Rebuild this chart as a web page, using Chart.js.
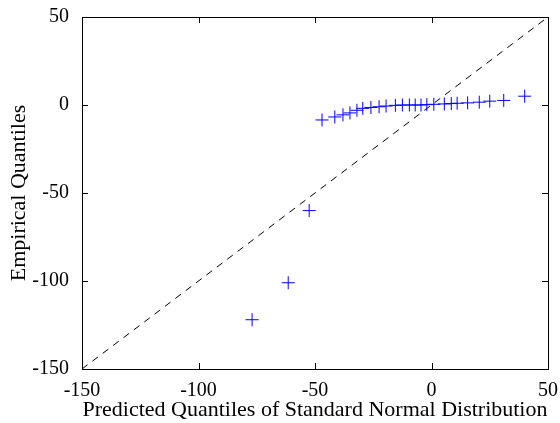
<!DOCTYPE html>
<html>
<head>
<meta charset="utf-8">
<script src="https://cdn.jsdelivr.net/npm/chart.js@4"></script>
<style>
  html, body { margin: 0; padding: 0; background: #fff; }
  #wrap { width: 560px; height: 423px; }
</style>
</head>
<body>
<div id="wrap"><canvas id="qq"></canvas></div>
<script>
// predicted (normal) quantiles and the empirical quantiles
const predicted = [-77, -61.5, -52.5, -47, -41.5, -38, -35, -32, -29.5, -26, -22.5, -19.5,
  -15.5, -12.5, -9.5, -7, -4.5, -2, 1, 5.5, 8.5, 11, 15.5, 20.5, 25, 31, 40];
const empirical = [-122, -101, -60, -8.5, -6.8, -5.6, -4.5, -3, -1.9, -1.4, -1, -0.6,
  -0.2, 0, 0, 0, 0, 0.2, 0.4, 0.6, 0.8, 1, 1.2, 1.6, 2.2, 2.6, 5];
const refLine = [-150, 50];
const xTicks = [-150, -100, -50, 0, 50];
const yTicks = [-150, -100, -50, 0, 50];

let ctx = document.getElementById('qq');

const points = predicted.map((x, i) => ({x: x, y: empirical[i]}));
const line = refLine.map(v => ({x: v, y: v}));

// box round the plot with inward tick marks on all sides
const boxPlugin = {
  id: 'box',
  afterDraw(chart) {
    const c = chart.ctx, a = chart.chartArea;
    const xs = chart.scales.x, ys = chart.scales.y;
    c.save();
    c.strokeStyle = '#000';
    c.lineWidth = 1;
    c.strokeRect(Math.round(a.left) + 0.5, Math.round(a.top) + 0.5,
      Math.round(a.right - a.left), Math.round(a.bottom - a.top));
    c.beginPath();
    xTicks.forEach(v => {
      const px = Math.round(xs.getPixelForValue(v)) + 0.5;
      c.moveTo(px, a.bottom); c.lineTo(px, a.bottom - 6);
      c.moveTo(px, a.top); c.lineTo(px, a.top + 6);
    });
    yTicks.forEach(v => {
      const py = Math.round(ys.getPixelForValue(v)) + 0.5;
      c.moveTo(a.left, py); c.lineTo(a.left + 6, py);
      c.moveTo(a.right, py); c.lineTo(a.right - 6, py);
    });
    c.stroke();
    c.restore();
  }
};

const font = {family: '"Liberation Serif", "Times New Roman", serif', size: 20};
const titleFont = {family: '"Liberation Serif", "Times New Roman", serif', size: 22};

new Chart(ctx, {
  type: 'scatter',
  data: {
    datasets: [
      {
        label: 'data',
        data: points,
        pointStyle: 'cross',
        pointRadius: 6.5,
        pointBorderColor: '#0000ff',
        pointBackgroundColor: '#0000ff',
        pointBorderWidth: 1,
        showLine: false
      },
      {
        label: 'ref',
        data: line,
        type: 'line',
        showLine: true,
        borderColor: '#000',
        borderWidth: 1,
        borderDash: [7, 6],
        pointRadius: 0,
        fill: false
      }
    ]
  },
  options: {
    responsive: true,
    maintainAspectRatio: false,
    animation: false,
    layout: {padding: {top: 17, right: 11, left: 0, bottom: 0}},
    plugins: {legend: {display: false}, tooltip: {enabled: false}},
    scales: {
      x: {
        type: 'linear',
        min: -150, max: 50,
        afterFit: s => { s.height = 54; },
        afterBuildTicks: s => { s.ticks = xTicks.map(v => ({value: v})); },
        grid: {display: false},
        border: {display: false},
        ticks: {color: '#000', font: font, padding: 2, maxRotation: 0},
        title: {display: true, text: 'Predicted Quantiles of Standard Normal Distribution',
          color: '#000', font: titleFont, padding: {top: 0, bottom: 0}}
      },
      y: {
        type: 'linear',
        min: -150, max: 50,
        afterFit: s => { s.width = 82; },
        afterBuildTicks: s => { s.ticks = yTicks.map(v => ({value: v})); },
        grid: {display: false},
        border: {display: false},
        ticks: {color: '#000', font: font, padding: 5},
        title: {display: true, text: 'Empirical Quantiles',
          color: '#000', font: titleFont, padding: {top: 6, bottom: 0}}
      }
    }
  },
  plugins: [boxPlugin]
});
</script>
</body>
</html>
